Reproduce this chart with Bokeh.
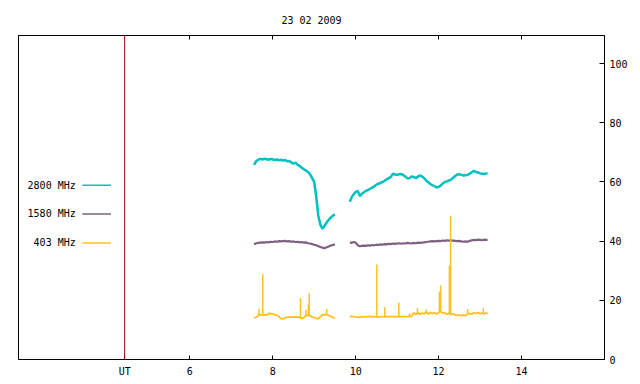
from bokeh.plotting import figure
from bokeh.models import Range1d, FixedTicker, LinearAxis, Span, Title
from bokeh.core.properties import value
from bokeh.embed import file_html
from bokeh.resources import INLINE

TITLE = "23 02 2009"
UT_HOUR = 4.43
X_TICKS = [6, 8, 10, 12, 14]
Y_TICKS = [0, 20, 40, 60, 80, 100]

# segment 1 sample times (hours UT)
T1 = [7.55, 7.60, 7.65, 7.70, 7.75, 7.80, 7.85, 7.90, 7.95, 8.00,
      8.05, 8.10, 8.15, 8.20, 8.25, 8.30, 8.35, 8.40, 8.45, 8.50,
      8.55, 8.60, 8.65, 8.70, 8.75, 8.80, 8.85, 8.90, 8.95, 9.00,
      9.05, 9.10, 9.15, 9.20, 9.25, 9.30, 9.35, 9.40, 9.45, 9.50]
# segment 2 sample times
T2 = [9.86, 9.90, 9.95, 10.00, 10.05, 10.10, 10.15, 10.20, 10.25, 10.30,
      10.35, 10.40, 10.45, 10.50, 10.55, 10.60, 10.65, 10.70, 10.75, 10.80,
      10.85, 10.90, 10.95, 11.00, 11.05, 11.10, 11.15, 11.20, 11.25, 11.30,
      11.35, 11.40, 11.45, 11.50, 11.55, 11.60, 11.65, 11.70, 11.75, 11.80,
      11.85, 11.90, 11.95, 12.00, 12.05, 12.10, 12.15, 12.20, 12.25, 12.30,
      12.35, 12.40, 12.45, 12.50, 12.55, 12.60, 12.65, 12.70, 12.75, 12.80,
      12.85, 12.90, 12.95, 13.00, 13.05, 13.10, 13.15, 13.18]

F2800_1 = [65.8, 67.0, 67.5, 67.8, 67.6, 67.9, 67.7, 67.5, 67.8, 67.6,
           67.4, 67.6, 67.3, 67.5, 67.2, 67.4, 67.0, 67.1, 66.6, 66.2,
           66.5, 65.8, 65.4, 64.8, 64.3, 63.9, 63.4, 62.6, 61.3, 60.0,
           55.0, 48.5, 45.5, 44.2, 45.2, 46.3, 47.2, 48.0, 48.6, 49.0]
F2800_2 = [53.3, 54.8, 55.8, 56.6, 57.0, 55.2, 56.0, 56.5, 57.0, 57.3,
           57.7, 58.1, 58.5, 59.1, 59.4, 59.7, 60.0, 60.4, 60.9, 61.3,
           61.7, 62.8, 62.5, 62.4, 62.6, 62.7, 62.3, 61.8, 61.2, 61.3,
           61.9, 61.7, 61.3, 61.8, 62.2, 61.9, 61.3, 60.5, 59.9, 59.3,
           58.9, 58.6, 58.2, 58.3, 58.8, 59.5, 60.0, 60.2, 60.5, 60.8,
           61.4, 62.0, 62.5, 62.6, 62.4, 62.2, 62.3, 62.4, 62.8, 63.3,
           63.8, 63.4, 63.2, 62.9, 62.8, 62.7, 62.9, 62.8]

F1580_1 = [38.9, 39.3, 39.4, 39.5, 39.6, 39.5, 39.7, 39.6, 39.8, 39.7,
           39.9, 39.8, 40.0, 39.9, 40.0, 40.1, 39.9, 40.0, 39.8, 39.9,
           39.7, 39.8, 39.6, 39.7, 39.5, 39.6, 39.3, 39.2, 39.0, 38.8,
           38.6, 38.3, 38.0, 37.8, 37.6, 37.9, 38.2, 38.5, 38.7, 38.9]
F1580_2 = [39.6, 39.4, 39.7, 39.5, 38.6, 38.3, 38.4, 38.5, 38.4, 38.6,
           38.5, 38.7, 38.6, 38.8, 38.7, 38.9, 38.8, 39.0, 38.9, 39.1,
           39.0, 39.2, 39.1, 39.2, 39.3, 39.1, 39.3, 39.2, 39.4, 39.3,
           39.2, 39.4, 39.3, 39.5, 39.4, 39.5, 39.6, 39.7, 39.8, 39.9,
           40.0, 39.9, 40.0, 40.1, 40.0, 40.2, 40.1, 40.3, 40.2, 40.3,
           40.2, 40.1, 40.0, 40.1, 39.9, 39.8, 39.9, 39.8, 40.1, 40.3,
           40.4, 40.3, 40.5, 40.4, 40.3, 40.5, 40.4, 40.4]

F403_1 = [14.1, 14.2, 14.9, 15.2, 15.0, 15.1, 15.0, 15.3, 15.5, 15.4,
          15.1, 15.0, 14.5, 13.8, 13.7, 14.1, 14.3, 14.4, 14.3, 14.4,
          14.3, 14.4, 14.2, 13.9, 14.2, 14.8, 15.0, 14.8, 14.4, 14.2,
          13.9, 13.7, 14.5, 15.2, 15.1, 15.2, 14.9, 14.6, 14.2, 14.1]
F403_2 = [14.5, 14.6, 14.5, 14.4, 14.2, 14.3, 14.5, 14.4, 14.5, 14.5,
          14.6, 14.5, 14.4, 14.5, 14.3, 14.4, 14.5, 14.5, 14.5, 14.5,
          14.5, 14.5, 14.5, 14.5, 14.5, 14.5, 14.5, 14.5, 14.5, 14.5,
          14.6, 15.8, 15.2, 15.9, 15.3, 15.7, 15.4, 16.1, 15.3, 15.9,
          15.5, 15.8, 15.4, 15.9, 16.3, 15.6, 15.8, 15.3, 15.6, 15.2,
          15.4, 15.0, 14.9, 15.1, 14.8, 15.0, 14.9, 15.4, 15.6, 15.3,
          15.8, 15.6, 15.9, 15.5, 15.7, 15.4, 15.8, 15.4]

# short bursts on 403 MHz: time, base level, peak
SPIKE_T = [7.67, 7.76, 7.92, 8.67, 8.80, 8.86, 8.88, 9.30,
           10.51, 10.70, 11.04, 11.30, 11.49, 11.70, 12.02, 12.05,
           12.26, 12.29, 12.70, 13.08]
SPIKE_BASE = [14.9, 15.0, 15.3, 14.2, 14.8, 15.0, 15.0, 15.2,
              14.5, 14.5, 14.5, 14.5, 15.6, 16.0, 15.8, 16.0,
              15.5, 15.3, 15.3, 15.6]
SPIKE_PEAK = [17.1, 28.8, 16.0, 20.8, 16.8, 18.6, 22.4, 17.1,
              32.1, 17.7, 19.3, 15.6, 17.5, 16.9, 23.0, 25.0,
              31.8, 48.6, 17.1, 17.5]

SERIES = ["2800 MHz", "1580 MHz", "403 MHz"]
COLORS = ["#00c0c0", "#806080", "#ffc020"]

FONT = "DejaVu Sans Mono"

p = figure(width=636, height=380,
           x_range=Range1d(1.87, 16.0), y_range=Range1d(0, 109.5),
           y_axis_location="right",
           output_backend="svg", toolbar_location=None,
           min_border_left=18, min_border_right=32,
           min_border_top=35, min_border_bottom=21)

p.title = Title(text=TITLE, align="center", text_font=FONT,
                text_font_size="10px", text_font_style="normal",
                text_color="black", standoff=20)

p.xgrid.visible = False
p.ygrid.visible = False
p.outline_line_color = "black"
p.outline_line_alpha = 1.0
p.outline_line_width = 1
p.background_fill_color = "white"
p.border_fill_color = "white"

# bottom axis
xa = p.xaxis[0]
xa.ticker = FixedTicker(ticks=[UT_HOUR] + X_TICKS)
xa.major_label_overrides = {UT_HOUR: "UT"}
xa.major_tick_in = 4
xa.major_tick_out = 0
xa.minor_tick_line_color = None
xa.major_label_standoff = 6
xa.major_label_text_font = FONT
xa.major_label_text_font_size = "10px"
xa.major_label_text_color = "black"
xa.axis_line_color = "black"

# right axis
ya = p.yaxis[0]
ya.ticker = FixedTicker(ticks=Y_TICKS)
ya.major_tick_in = 5
ya.major_tick_out = 0
ya.minor_tick_line_color = None
ya.major_label_standoff = 5
ya.major_label_text_font = FONT
ya.major_label_text_font_size = "10px"
ya.major_label_text_color = "black"
ya.axis_line_color = "black"

# mirrored top ticks
top = LinearAxis(ticker=FixedTicker(ticks=X_TICKS))
top.major_tick_in = 4
top.major_tick_out = 0
top.minor_tick_line_color = None
top.major_label_text_alpha = 0
top.major_label_text_font_size = "1px"
top.major_label_standoff = 0
top.axis_line_color = "black"
p.add_layout(top, "above")

# data
p.line(T1, F2800_1, line_color=COLORS[0], line_width=2.5)
p.line(T2, F2800_2, line_color=COLORS[0], line_width=2.5)
p.line(T1, F1580_1, line_color=COLORS[1], line_width=2.2)
p.line(T2, F1580_2, line_color=COLORS[1], line_width=2.2)
p.line(T1, F403_1, line_color=COLORS[2], line_width=1.8)
p.line(T2, F403_2, line_color=COLORS[2], line_width=1.8)
p.segment(x0=SPIKE_T, y0=SPIKE_BASE, x1=SPIKE_T, y1=SPIKE_PEAK,
          line_color=COLORS[2], line_width=1.5)

# UT marker line
p.add_layout(Span(location=UT_HOUR, dimension="height",
                  line_color="#a00000", line_width=1))

# legend (label left of sample line)
LEG_TEXT_X = 3.25
LEG_LINE_X0 = 3.41
LEG_LINE_X1 = 4.10
LEG_Y = [58.9, 49.2, 39.4]
p.text(x=[LEG_TEXT_X] * 3, y=LEG_Y, text=SERIES,
       text_align="right", text_baseline="middle",
       text_font=value(FONT), text_font_size="10px", text_color="black")
p.segment(x0=[LEG_LINE_X0] * 3, y0=LEG_Y, x1=[LEG_LINE_X1] * 3, y1=LEG_Y,
          line_color=COLORS, line_width=1.5)

open("out.html", "w").write(file_html(p, INLINE))
